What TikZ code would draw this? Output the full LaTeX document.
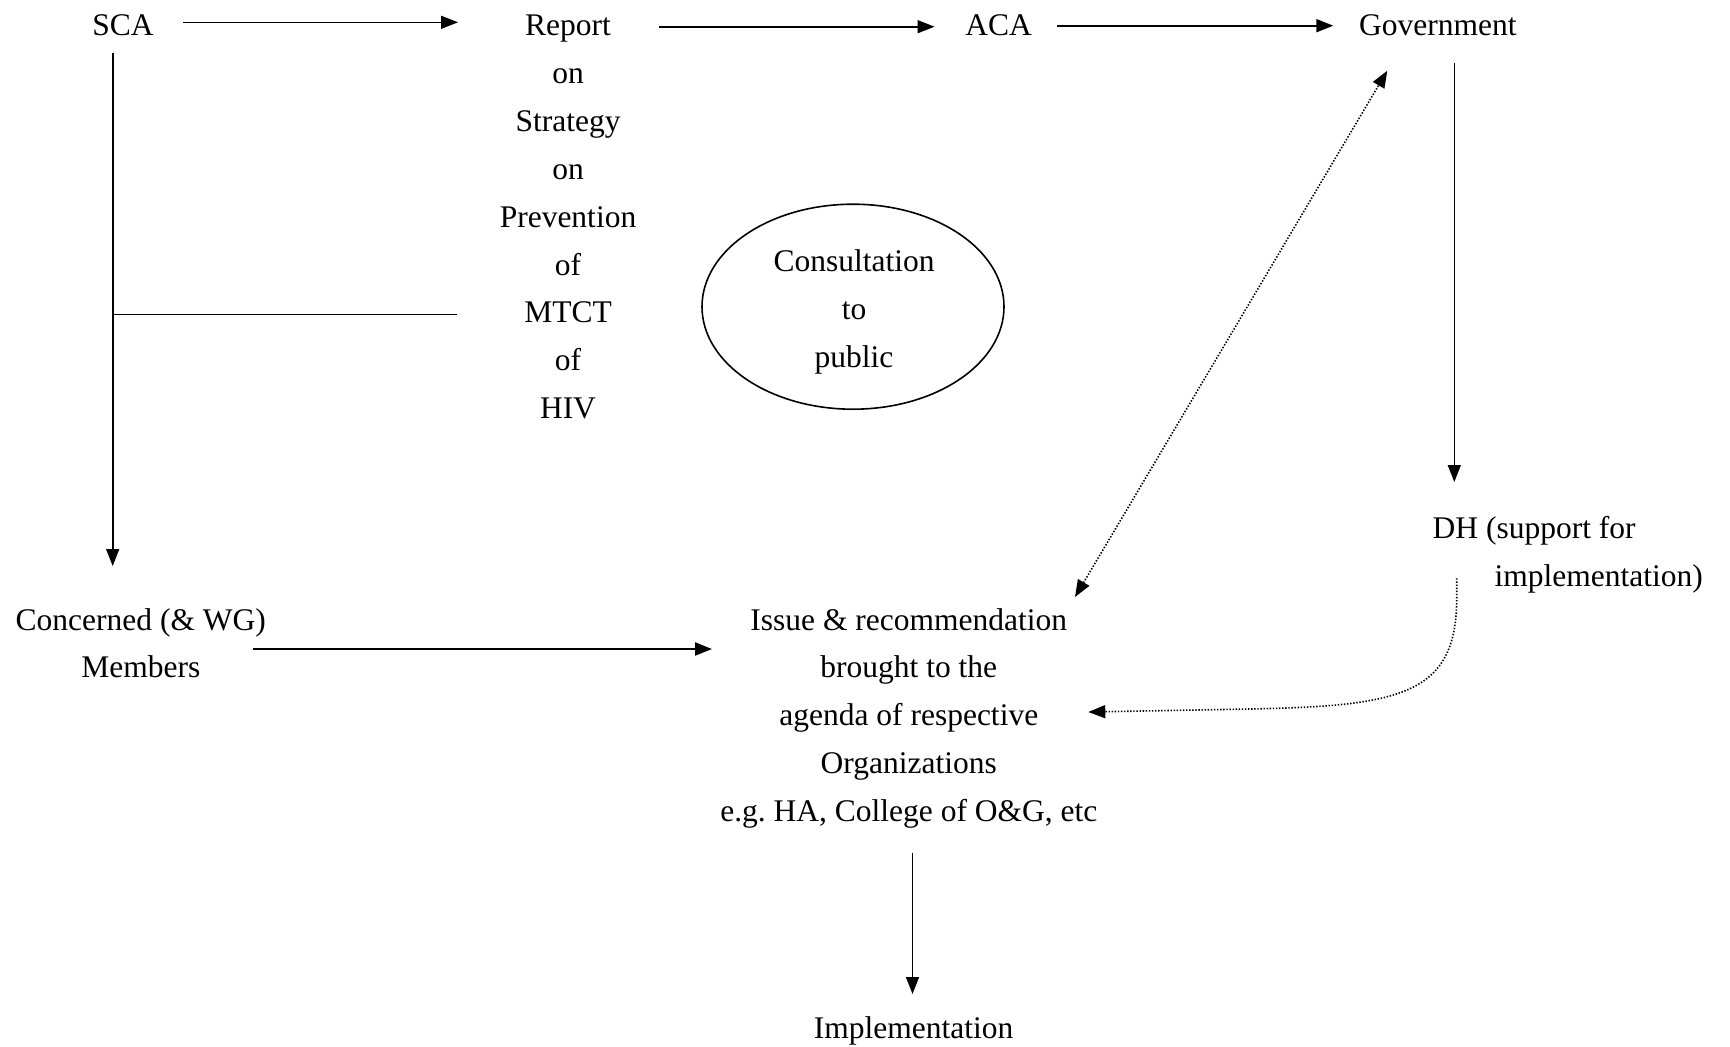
\documentclass[tikz,border=0pt]{standalone}
\usepackage{fontspec}
\setmainfont{Liberation Serif}
\usetikzlibrary{arrows.meta,shapes.geometric}
\begin{document}
\begin{tikzpicture}[x=1pt,y=-1pt,
  txt/.style={font=\fontsize{31.5}{47.9}\selectfont, inner sep=0pt, outer sep=0pt},
  tip/.tip={Triangle[length=17pt,width=13pt]},
  arr/.style={line width=1.6pt, -tip},
  plain/.style={line width=1.6pt},
  dots/.style={line width=1.6pt, dash pattern=on 1.4pt off 1.7pt},
]
\useasboundingbox[fill=white] (0,0) rectangle (1730,1047);

% text nodes (anchor=base is the baseline of the last line)
\node[txt,anchor=base] (sca) at (123,35.5) {SCA};
\node[txt,anchor=base,align=center] (report) at (568,418.7)
  {Report\\on\\Strategy\\on\\Prevention\\of\\MTCT\\of\\HIV};
\node[txt,anchor=base] (aca) at (998.5,35.5) {ACA};
\node[txt,anchor=base] (gov) at (1437.8,35.5) {Government};
\node[txt,anchor=base west,align=left] (dh) at (1432.7,586)
  {DH (support for\\\hspace*{62pt}implementation)};
\node[draw,ellipse,plain,minimum width=302pt,minimum height=205pt,
  inner sep=0pt] (consult) at (853,306.7) {};
\node[txt,anchor=base,align=center] (consultTxt) at (854,367)
  {Consultation\\to\\public};
\node[txt,anchor=base,align=center] (concerned) at (140.8,677.9)
  {Concerned (\&{} WG)\\Members};
\node[txt,anchor=base,align=center] (issue) at (908.8,821.6)
  {Issue \& recommendation\\brought to the\\agenda of respective\\Organizations\\e.g.\ HA, College of O\&G, etc};
\node[txt,anchor=base] (impl) at (913.5,1038) {Implementation};

% connector ends
\coordinate (scaR) at (183.3,22.3);
\coordinate (repL) at (458,22.3);
\coordinate (repR) at (659,26.7);
\coordinate (acaL) at (934.5,26.7);
\coordinate (acaR) at (1057,25.7);
\coordinate (govL) at (1333.3,25.7);
\coordinate (scaB) at (112.7,52.7);
\coordinate (conT) at (112.7,566);
\coordinate (branch) at (112.7,314.5);
\coordinate (repW) at (456.8,314.5);
\coordinate (govB) at (1454.3,63.3);
\coordinate (dhT) at (1454.3,482);
\coordinate (govD) at (1387.3,70.7);
\coordinate (issueNE) at (1075,597);
\coordinate (memR) at (253.3,649);
\coordinate (issueW) at (712,649);
\coordinate (issueS) at (912.5,853);
\coordinate (implN) at (912.5,994);
\coordinate (dhS) at (1456.7,578.3);
\coordinate (issueE) at (1088.3,712);

% connectors
\draw[arr] (scaR) -- (repL);
\draw[arr] (repR) -- (acaL);
\draw[arr] (acaR) -- (govL);
\draw[arr] (scaB) -- (conT);
\draw[plain] (branch) -- (repW);
\draw[arr] (govB) -- (dhT);
\draw[arr,line width=2.2pt] (memR) -- (issueW);
\draw[arr] (issueS) -- (implN);
\draw[dots,tip-tip] (issueNE) -- (govD);
\draw[dots,-tip] (dhS) -- (1456.7,600) .. controls (1456,695) and (1400,706) .. (1250,709) -- (issueE);
\end{tikzpicture}
\end{document}
